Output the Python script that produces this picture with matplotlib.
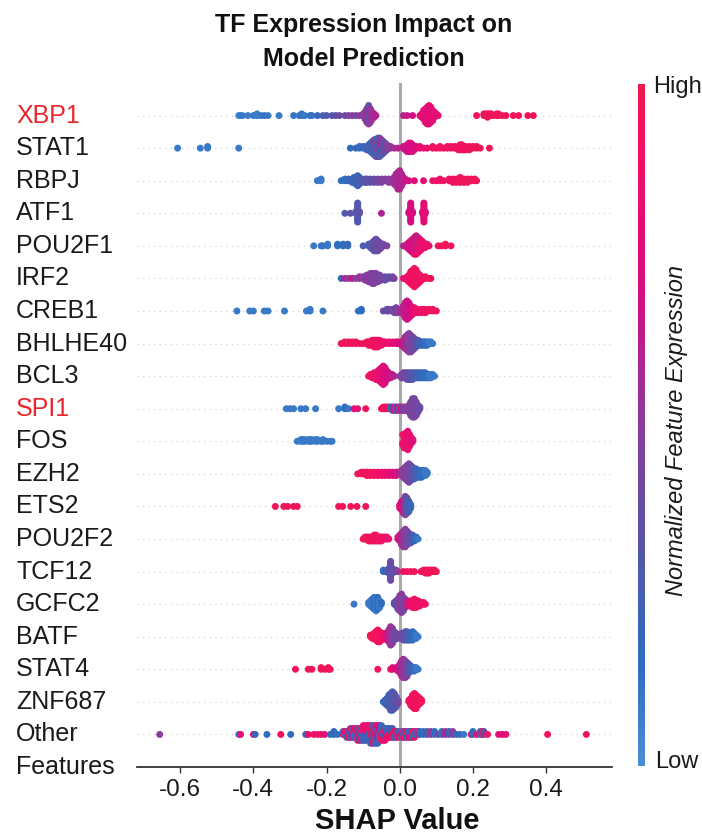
import numpy as np
import matplotlib
matplotlib.use("Agg")
import matplotlib.pyplot as plt
from matplotlib.colors import LinearSegmentedColormap

plt.rcParams['font.family'] = ['Liberation Sans', 'DejaVu Sans']

# ---------------- data (shap value, normalized expression, count) ----------------
features = ["XBP1", "STAT1", "RBPJ", "ATF1", "POU2F1", "IRF2", "CREB1", "BHLHE40",
            "BCL3", "SPI1", "FOS", "EZH2", "ETS2", "POU2F2", "TCF12", "GCFC2",
            "BATF", "STAT4", "ZNF687", "Other\nFeatures"]
highlight = ["XBP1", "SPI1"]
xticks = [-0.6, -0.4, -0.2, 0.0, 0.2, 0.4]

XBP1 = [(-0.44, 0.05, 1), (-0.435, 0.08, 1), (-0.43, 0.1, 1), (-0.415, 0.08, 1), (-0.40, 0.1, 1),
        (-0.39, 0.08, 2), (-0.38, 0.1, 1), (-0.37, 0.12, 1), (-0.36, 0.1, 1), (-0.33, 0.1, 1),
        (-0.29, 0.12, 1), (-0.275, 0.1, 1), (-0.268, 0.12, 2), (-0.26, 0.1, 1), (-0.245, 0.15, 1),
        (-0.24, 0.12, 1), (-0.225, 0.2, 1), (-0.21, 0.25, 1), (-0.2, 0.3, 1), (-0.185, 0.3, 1),
        (-0.175, 0.35, 1), (-0.165, 0.4, 1), (-0.15, 0.4, 1), (-0.14, 0.45, 1), (-0.13, 0.5, 1),
        (-0.12, 0.45, 1), (-0.11, 0.5, 1), (-0.1, 0.45, 2), (-0.095, 0.5, 5), (-0.09, 0.4, 5),
        (-0.09, 0.6, 4), (-0.085, 0.55, 7), (-0.085, 0.35, 5), (-0.08, 0.5, 9), (-0.075, 0.55, 5),
        (-0.07, 0.6, 3), (-0.065, 0.6, 1), (0.01, 0.6, 1), (0.02, 0.65, 1), (0.035, 0.7, 1),
        (0.055, 0.75, 1), (0.06, 0.75, 3), (0.065, 0.8, 6), (0.07, 0.7, 4), (0.07, 0.85, 5),
        (0.075, 0.8, 11), (0.08, 0.85, 7), (0.08, 0.7, 5), (0.085, 0.8, 10), (0.09, 0.8, 7),
        (0.095, 0.8, 4), (0.1, 0.8, 2), (0.105, 0.8, 1), (0.21, 0.95, 1), (0.23, 0.95, 2),
        (0.235, 0.95, 2), (0.24, 0.95, 3), (0.245, 0.95, 2), (0.25, 0.95, 2), (0.255, 0.95, 1),
        (0.265, 0.95, 2), (0.27, 0.95, 2), (0.28, 0.95, 1), (0.29, 0.95, 1), (0.31, 0.95, 1),
        (0.325, 0.95, 1), (0.35, 0.95, 1), (0.365, 0.95, 1)]

STAT1 = [(-0.607, 0.1, 1), (-0.545, 0.1, 1), (-0.525, 0.1, 2), (-0.44, 0.1, 1),
         (-0.135, 0.15, 1), (-0.12, 0.2, 1), (-0.11, 0.15, 2), (-0.1, 0.2, 2), (-0.09, 0.2, 3),
         (-0.085, 0.25, 4), (-0.08, 0.2, 6), (-0.075, 0.3, 8), (-0.07, 0.15, 5), (-0.07, 0.45, 5),
         (-0.065, 0.3, 11), (-0.06, 0.15, 6), (-0.06, 0.5, 6), (-0.055, 0.35, 12), (-0.05, 0.2, 5),
         (-0.05, 0.55, 5), (-0.045, 0.4, 8), (-0.04, 0.35, 6), (-0.035, 0.45, 4), (-0.03, 0.5, 2),
         (-0.025, 0.5, 2), (-0.015, 0.55, 1), (-0.005, 0.6, 1), (0.01, 0.65, 2), (0.015, 0.7, 3),
         (0.02, 0.65, 5), (0.025, 0.7, 6), (0.03, 0.7, 6), (0.035, 0.75, 5), (0.04, 0.7, 3),
         (0.045, 0.75, 2), (0.055, 0.8, 2), (0.065, 0.85, 1), (0.075, 0.85, 1), (0.09, 0.9, 2),
         (0.1, 0.9, 1), (0.11, 0.9, 2), (0.12, 0.9, 1), (0.13, 0.9, 2), (0.14, 0.9, 2),
         (0.15, 0.92, 2), (0.16, 0.92, 3), (0.165, 0.92, 4), (0.17, 0.92, 4), (0.175, 0.92, 3),
         (0.18, 0.92, 3), (0.19, 0.92, 3), (0.2, 0.95, 2), (0.21, 0.95, 2), (0.22, 0.95, 1),
         (0.245, 0.95, 1)]

RBPJ = [(-0.225, 0.1, 1), (-0.215, 0.1, 2), (-0.16, 0.15, 1), (-0.15, 0.15, 2), (-0.14, 0.2, 2),
        (-0.13, 0.2, 3), (-0.125, 0.2, 4), (-0.12, 0.25, 5), (-0.115, 0.2, 7), (-0.11, 0.25, 5),
        (-0.105, 0.3, 3), (-0.095, 0.3, 3), (-0.09, 0.35, 3), (-0.08, 0.35, 3), (-0.07, 0.4, 3),
        (-0.06, 0.4, 3), (-0.05, 0.45, 3), (-0.04, 0.45, 2), (-0.03, 0.5, 3), (-0.02, 0.5, 3),
        (-0.015, 0.55, 5), (-0.01, 0.55, 8), (-0.005, 0.55, 11), (0.0, 0.6, 12), (0.005, 0.6, 8),
        (0.01, 0.6, 4), (0.015, 0.65, 2), (0.025, 0.7, 1), (0.04, 0.75, 1), (0.065, 0.8, 1),
        (0.09, 0.85, 1), (0.1, 0.85, 1), (0.11, 0.9, 2), (0.12, 0.9, 1), (0.135, 0.9, 2),
        (0.145, 0.92, 3), (0.155, 0.92, 3), (0.165, 0.95, 4), (0.175, 0.95, 3), (0.185, 0.95, 3),
        (0.195, 0.95, 2), (0.205, 0.95, 2), (0.21, 0.95, 1)]

ATF1 = [(-0.15, 0.3, 1), (-0.135, 0.35, 1), (-0.12, 0.3, 2), (-0.115, 0.3, 14), (-0.11, 0.35, 2),
        (-0.05, 0.6, 1), (0.025, 0.7, 2), (0.03, 0.7, 14), (0.035, 0.72, 2), (0.062, 0.75, 2),
        (0.066, 0.78, 14), (0.07, 0.78, 2)]

POU2F1 = [(-0.235, 0.1, 1), (-0.215, 0.1, 1), (-0.21, 0.12, 1), (-0.197, 0.1, 2), (-0.17, 0.15, 2),
          (-0.155, 0.15, 2), (-0.142, 0.2, 2), (-0.1, 0.25, 1), (-0.085, 0.3, 2), (-0.08, 0.3, 3),
          (-0.075, 0.35, 5), (-0.07, 0.35, 7), (-0.065, 0.4, 8), (-0.06, 0.35, 7), (-0.055, 0.4, 5),
          (-0.05, 0.45, 3), (-0.045, 0.4, 2), (-0.035, 0.45, 1), (0.01, 0.6, 1), (0.02, 0.65, 3),
          (0.025, 0.7, 5), (0.03, 0.7, 7), (0.035, 0.75, 9), (0.04, 0.9, 6), (0.04, 0.6, 5),
          (0.045, 0.75, 12), (0.05, 0.9, 5), (0.05, 0.6, 5), (0.055, 0.8, 8), (0.06, 0.85, 6),
          (0.065, 0.8, 4), (0.07, 0.85, 3), (0.075, 0.85, 2), (0.08, 0.85, 1), (0.105, 0.95, 1),
          (0.115, 0.95, 1), (0.125, 0.95, 2), (0.14, 0.95, 1)]

IRF2 = [(-0.16, 0.15, 1), (-0.15, 0.6, 1), (-0.14, 0.5, 1), (-0.13, 0.7, 1), (-0.12, 0.4, 1),
        (-0.11, 0.55, 2), (-0.1, 0.5, 2), (-0.095, 0.5, 3), (-0.09, 0.45, 4), (-0.085, 0.5, 5),
        (-0.08, 0.45, 6), (-0.075, 0.5, 7), (-0.07, 0.45, 7), (-0.065, 0.5, 6), (-0.06, 0.45, 5),
        (-0.055, 0.4, 4), (-0.05, 0.45, 3), (-0.04, 0.4, 3), (-0.03, 0.35, 2), (-0.02, 0.4, 2),
        (-0.015, 0.45, 1), (0.01, 0.8, 1), (0.02, 0.85, 3), (0.025, 0.9, 5), (0.03, 0.9, 8),
        (0.035, 0.9, 10), (0.04, 0.92, 12), (0.045, 0.9, 10), (0.05, 0.9, 7), (0.055, 0.92, 5),
        (0.06, 0.92, 3), (0.07, 0.95, 2), (0.08, 0.95, 1), (0.085, 0.95, 1)]

CREB1 = [(-0.445, 0.1, 1), (-0.41, 0.1, 1), (-0.4, 0.1, 1), (-0.37, 0.1, 1), (-0.36, 0.1, 1),
         (-0.315, 0.1, 1), (-0.255, 0.1, 1), (-0.245, 0.1, 2), (-0.21, 0.1, 1), (-0.113, 0.15, 1),
         (-0.105, 0.15, 2), (-0.045, 0.4, 1), (-0.035, 0.3, 2), (-0.03, 0.45, 2), (-0.02, 0.35, 2),
         (-0.015, 0.4, 3), (-0.01, 0.45, 4), (-0.005, 0.5, 3), (0.005, 0.55, 3), (0.01, 0.6, 6),
         (0.015, 0.65, 10), (0.02, 0.65, 12), (0.025, 0.7, 10), (0.03, 0.7, 7), (0.035, 0.75, 5),
         (0.04, 0.8, 4), (0.045, 0.85, 3), (0.05, 0.85, 3), (0.06, 0.9, 3), (0.065, 0.9, 2),
         (0.07, 0.92, 3), (0.08, 0.92, 2), (0.09, 0.95, 2), (0.1, 0.95, 1)]

BHLHE40 = [(-0.16, 0.95, 1), (-0.15, 0.95, 2), (-0.14, 0.95, 2), (-0.13, 0.95, 2), (-0.12, 0.95, 2),
           (-0.11, 0.95, 1), (-0.1, 0.9, 1), (-0.09, 0.95, 2), (-0.085, 0.95, 3), (-0.08, 0.92, 3),
           (-0.075, 0.92, 4), (-0.07, 0.9, 5), (-0.065, 0.92, 5), (-0.06, 0.9, 5), (-0.055, 0.9, 4),
           (-0.05, 0.88, 3), (-0.045, 0.9, 2), (-0.04, 0.85, 2), (-0.03, 0.85, 2), (-0.02, 0.8, 2),
           (-0.01, 0.8, 2), (-0.005, 0.75, 2), (0.005, 0.7, 3), (0.01, 0.65, 5), (0.015, 0.6, 8),
           (0.02, 0.55, 10), (0.025, 0.5, 12), (0.03, 0.45, 11), (0.035, 0.45, 9), (0.04, 0.4, 7),
           (0.045, 0.35, 5), (0.05, 0.3, 4), (0.055, 0.25, 3), (0.06, 0.2, 3), (0.065, 0.2, 3),
           (0.07, 0.15, 3), (0.075, 0.15, 3), (0.08, 0.1, 2), (0.085, 0.1, 2), (0.09, 0.1, 1)]

BCL3 = [(-0.085, 0.9, 1), (-0.08, 0.9, 2), (-0.075, 0.9, 3), (-0.07, 0.88, 4), (-0.065, 0.85, 5),
        (-0.06, 0.85, 6), (-0.055, 0.8, 8), (-0.05, 0.8, 10), (-0.045, 0.75, 12), (-0.04, 0.75, 10),
        (-0.035, 0.7, 6), (-0.03, 0.7, 4), (-0.025, 0.65, 3), (-0.02, 0.65, 2), (-0.015, 0.6, 1),
        (0.0, 0.5, 1), (0.005, 0.45, 3), (0.01, 0.45, 4), (0.015, 0.4, 4), (0.02, 0.4, 5),
        (0.025, 0.35, 5), (0.03, 0.35, 5), (0.035, 0.3, 5), (0.04, 0.3, 4), (0.045, 0.25, 4),
        (0.05, 0.25, 4), (0.055, 0.2, 4), (0.06, 0.2, 4), (0.065, 0.15, 4), (0.07, 0.15, 4),
        (0.075, 0.15, 3), (0.08, 0.12, 3), (0.085, 0.1, 3), (0.09, 0.1, 2), (0.095, 0.1, 1)]

SPI1 = [(-0.31, 0.1, 1), (-0.3, 0.1, 1), (-0.29, 0.1, 1), (-0.27, 0.1, 1), (-0.257, 0.1, 1),
        (-0.23, 0.1, 1), (-0.167, 0.1, 1), (-0.15, 0.15, 2), (-0.14, 0.1, 1), (-0.125, 0.8, 1),
        (-0.115, 0.8, 1), (-0.093, 0.95, 1), (-0.05, 0.95, 1), (-0.045, 0.9, 2), (-0.04, 0.95, 2),
        (-0.035, 0.9, 2), (-0.03, 0.95, 2), (-0.025, 0.2, 2), (-0.02, 0.3, 3), (-0.015, 0.8, 3),
        (-0.01, 0.2, 3), (-0.005, 0.7, 3), (0.0, 0.3, 3), (0.005, 0.75, 3), (0.01, 0.4, 3),
        (0.015, 0.5, 3), (0.02, 0.45, 3), (0.025, 0.5, 5), (0.03, 0.45, 9), (0.035, 0.45, 12),
        (0.04, 0.4, 12), (0.045, 0.45, 9), (0.05, 0.4, 5), (0.055, 0.4, 2)]

FOS = [(-0.28, 0.1, 1), (-0.27, 0.1, 2), (-0.265, 0.1, 2), (-0.26, 0.1, 2), (-0.25, 0.1, 2),
       (-0.245, 0.1, 2), (-0.24, 0.1, 2), (-0.23, 0.1, 2), (-0.225, 0.1, 2), (-0.215, 0.1, 1),
       (-0.21, 0.1, 2), (-0.2, 0.1, 1), (-0.19, 0.1, 1), (-0.185, 0.1, 1), (0.008, 0.85, 3),
       (0.012, 0.9, 6), (0.017, 0.85, 10), (0.022, 0.8, 12), (0.027, 0.85, 8), (0.032, 0.8, 4),
       (0.036, 0.75, 2)]

EZH2 = [(-0.115, 0.95, 1), (-0.105, 0.95, 2), (-0.1, 0.95, 2), (-0.09, 0.95, 3), (-0.08, 0.92, 3),
        (-0.07, 0.9, 3), (-0.06, 0.88, 3), (-0.05, 0.85, 3), (-0.04, 0.85, 3), (-0.03, 0.8, 3),
        (-0.02, 0.75, 3), (-0.01, 0.7, 3), (-0.005, 0.65, 2), (0.005, 0.55, 4), (0.01, 0.5, 6),
        (0.015, 0.5, 8), (0.02, 0.45, 10), (0.025, 0.45, 12), (0.03, 0.4, 10), (0.035, 0.35, 8),
        (0.04, 0.3, 7), (0.045, 0.25, 6), (0.05, 0.2, 5), (0.055, 0.2, 5), (0.06, 0.15, 5),
        (0.065, 0.15, 4), (0.07, 0.1, 4), (0.075, 0.1, 2)]

ETS2 = [(-0.34, 0.95, 1), (-0.317, 0.95, 1), (-0.306, 0.95, 1), (-0.29, 0.95, 1), (-0.28, 0.95, 1),
        (-0.167, 0.95, 1), (-0.156, 0.95, 1), (-0.134, 0.95, 1), (-0.117, 0.95, 1), (-0.093, 0.95, 1),
        (0.0, 0.85, 3), (0.005, 0.75, 6), (0.01, 0.65, 9), (0.015, 0.5, 12), (0.02, 0.35, 10),
        (0.025, 0.25, 7), (0.03, 0.2, 3)]

POU2F2 = [(-0.1, 0.95, 1), (-0.095, 0.95, 2), (-0.09, 0.95, 2), (-0.085, 0.95, 3), (-0.08, 0.95, 3),
          (-0.075, 0.92, 3), (-0.07, 0.95, 4), (-0.065, 0.92, 4), (-0.06, 0.92, 3), (-0.055, 0.9, 3),
          (-0.05, 0.9, 3), (-0.045, 0.9, 2), (-0.04, 0.88, 2), (-0.035, 0.85, 2), (-0.03, 0.85, 1),
          (-0.005, 0.75, 2), (0.0, 0.7, 4), (0.005, 0.6, 7), (0.01, 0.55, 9), (0.015, 0.5, 10),
          (0.02, 0.45, 8), (0.025, 0.4, 6), (0.03, 0.35, 5), (0.035, 0.3, 4), (0.04, 0.2, 3),
          (0.045, 0.15, 2), (0.05, 0.1, 1)]

TCF12 = [(-0.045, 0.15, 2), (-0.04, 0.2, 1), (-0.035, 0.25, 2), (-0.03, 0.3, 4), (-0.025, 0.4, 14),
         (-0.02, 0.35, 4), (-0.015, 0.3, 2), (-0.01, 0.45, 2), (-0.005, 0.5, 1), (0.01, 0.9, 1),
         (0.02, 0.92, 1), (0.03, 0.95, 1), (0.04, 0.95, 1), (0.058, 0.95, 1), (0.065, 0.95, 2),
         (0.07, 0.95, 3), (0.075, 0.95, 3), (0.08, 0.95, 3), (0.085, 0.95, 2), (0.09, 0.95, 2),
         (0.095, 0.95, 2), (0.1, 0.95, 1)]

GCFC2 = [(-0.125, 0.1, 1), (-0.085, 0.1, 2), (-0.08, 0.1, 4), (-0.075, 0.1, 6), (-0.07, 0.15, 8),
         (-0.065, 0.1, 9), (-0.06, 0.15, 8), (-0.055, 0.1, 5), (-0.05, 0.15, 2), (-0.015, 0.3, 2),
         (-0.01, 0.35, 4), (-0.005, 0.4, 7), (0.0, 0.45, 10), (0.005, 0.5, 12), (0.01, 0.45, 9),
         (0.015, 0.5, 6), (0.02, 0.55, 4), (0.025, 0.8, 3), (0.03, 0.85, 4), (0.035, 0.9, 5),
         (0.04, 0.9, 6), (0.045, 0.9, 5), (0.05, 0.9, 4), (0.055, 0.85, 3), (0.06, 0.9, 2),
         (0.065, 0.9, 2), (0.07, 0.9, 1)]

BATF = [(-0.08, 0.95, 2), (-0.075, 0.95, 3), (-0.07, 0.95, 4), (-0.065, 0.95, 6), (-0.06, 0.92, 8),
        (-0.055, 0.92, 7), (-0.05, 0.9, 5), (-0.045, 0.9, 4), (-0.04, 0.85, 4), (-0.035, 0.75, 5),
        (-0.03, 0.6, 8), (-0.025, 0.55, 12), (-0.02, 0.5, 10), (-0.015, 0.45, 6), (-0.01, 0.4, 4),
        (-0.005, 0.4, 3), (0.005, 0.45, 4), (0.01, 0.4, 5), (0.015, 0.35, 6), (0.02, 0.3, 6),
        (0.025, 0.25, 5), (0.03, 0.2, 5), (0.035, 0.15, 6), (0.04, 0.15, 4), (0.045, 0.1, 3),
        (0.05, 0.1, 1)]

STAT4 = [(-0.285, 0.95, 1), (-0.25, 0.95, 1), (-0.24, 0.95, 1), (-0.215, 0.95, 2), (-0.205, 0.95, 1),
         (-0.195, 0.95, 2), (-0.19, 0.95, 1), (-0.06, 0.95, 1), (-0.025, 0.95, 1), (-0.02, 0.75, 2),
         (-0.01, 0.7, 2), (-0.005, 0.7, 3), (0.0, 0.65, 6), (0.005, 0.6, 10), (0.01, 0.55, 12),
         (0.015, 0.5, 11), (0.02, 0.45, 9), (0.025, 0.35, 6), (0.03, 0.25, 4), (0.035, 0.2, 3),
         (0.04, 0.15, 3), (0.045, 0.1, 2), (0.05, 0.1, 1)]

ZNF687 = [(-0.045, 0.15, 1), (-0.04, 0.2, 3), (-0.035, 0.25, 5), (-0.03, 0.2, 8), (-0.025, 0.3, 11),
          (-0.02, 0.25, 12), (-0.015, 0.35, 10), (-0.01, 0.3, 7), (-0.005, 0.4, 3), (0.025, 0.9, 2),
          (0.03, 0.92, 5), (0.035, 0.92, 8), (0.04, 0.95, 10), (0.045, 0.92, 9), (0.05, 0.92, 6),
          (0.055, 0.95, 4), (0.06, 0.95, 2)]

OTHER = [(-0.656, 0.5, 1), (-0.44, 0.1, 1), (-0.435, 0.8, 1), (-0.4, 0.85, 1), (-0.395, 0.2, 1),
         (-0.363, 0.15, 1), (-0.325, 0.9, 1), (-0.298, 0.15, 1), (-0.257, 0.2, 1), (-0.25, 0.85, 1),
         (-0.235, 0.9, 1), (-0.225, 0.85, 1), (-0.215, 0.9, 1), (-0.205, 0.75, 1), (-0.19, 0.15, 1),
         (-0.18, 0.2, 2), (-0.17, 0.15, 1), (-0.155, 0.9, 1), (-0.155, 0.2, 1), (-0.15, 0.2, 1),
         (-0.15, 0.85, 1), (-0.145, 0.85, 2), (-0.145, 0.3, 1), (-0.14, 0.3, 2), (-0.14, 0.9, 1),
         (-0.135, 0.9, 2), (-0.135, 0.2, 2), (-0.13, 0.2, 2), (-0.13, 0.8, 2), (-0.125, 0.8, 2),
         (-0.125, 0.15, 2), (-0.12, 0.15, 2), (-0.12, 0.9, 2), (-0.115, 0.9, 3), (-0.115, 0.3, 2),
         (-0.11, 0.3, 3), (-0.11, 0.85, 2), (-0.105, 0.85, 3), (-0.105, 0.2, 2), (-0.1, 0.2, 3),
         (-0.1, 0.9, 3), (-0.095, 0.9, 3), (-0.095, 0.25, 3), (-0.09, 0.25, 3), (-0.09, 0.8, 3),
         (-0.085, 0.8, 3), (-0.085, 0.15, 3), (-0.08, 0.15, 4), (-0.08, 0.9, 3), (-0.075, 0.9, 4),
         (-0.075, 0.3, 3), (-0.07, 0.3, 4), (-0.07, 0.85, 3), (-0.065, 0.85, 4), (-0.065, 0.2, 3),
         (-0.06, 0.2, 4), (-0.06, 0.7, 3), (-0.055, 0.7, 3), (-0.055, 0.15, 3), (-0.05, 0.15, 3),
         (-0.05, 0.9, 3), (-0.045, 0.9, 3), (-0.045, 0.3, 2), (-0.04, 0.3, 3), (-0.04, 0.8, 2),
         (-0.035, 0.8, 2), (-0.035, 0.2, 2), (-0.03, 0.2, 2), (-0.03, 0.9, 2), (-0.025, 0.9, 2),
         (-0.025, 0.25, 2), (-0.02, 0.25, 2), (-0.02, 0.85, 2), (-0.015, 0.85, 2), (-0.015, 0.2, 1),
         (-0.01, 0.2, 2), (-0.01, 0.9, 1), (-0.005, 0.9, 2), (-0.005, 0.3, 1), (0.005, 0.2, 2),
         (0.005, 0.85, 1), (0.01, 0.85, 2), (0.01, 0.3, 1), (0.015, 0.3, 2), (0.015, 0.9, 1),
         (0.02, 0.9, 2), (0.02, 0.15, 1), (0.025, 0.15, 2), (0.025, 0.8, 1), (0.03, 0.8, 2),
         (0.03, 0.2, 1), (0.035, 0.2, 2), (0.035, 0.9, 1), (0.04, 0.9, 2), (0.04, 0.25, 1),
         (0.045, 0.25, 2), (0.05, 0.85, 2), (0.055, 0.2, 2), (0.065, 0.15, 2), (0.075, 0.3, 2),
         (0.085, 0.5, 2), (0.095, 0.15, 2), (0.105, 0.4, 1), (0.115, 0.15, 2), (0.125, 0.6, 2),
         (0.135, 0.2, 2), (0.145, 0.5, 2), (0.155, 0.15, 1), (0.165, 0.2, 1), (0.175, 0.1, 1),
         (0.195, 0.9, 1), (0.2, 0.15, 2), (0.21, 0.85, 1), (0.22, 0.2, 2), (0.225, 0.9, 2),
         (0.23, 0.4, 2), (0.24, 0.9, 1), (0.27, 0.8, 1), (0.28, 0.75, 1), (0.29, 0.8, 1),
         (0.404, 0.95, 1), (0.51, 0.95, 1)]

rows = [XBP1, STAT1, RBPJ, ATF1, POU2F1, IRF2, CREB1, BHLHE40, BCL3, SPI1, FOS, EZH2, ETS2,
        POU2F2, TCF12, GCFC2, BATF, STAT4, ZNF687, OTHER]

# ---------------- styling ----------------
cmap = LinearSegmentedColormap.from_list(
    "shapish", [(0.0, '#4b8fd6'), (0.15, '#2f6dbf'), (0.32, '#5656a9'), (0.5, '#8a3c9c'),
                (0.7, '#d80c82'), (0.88, '#f00f68'), (1.0, '#f0184e')])


def swarm_offsets(x, row_height=0.4, binw=0.005):
    q = np.round(np.asarray(x) / binw).astype(int)
    n = len(x)
    tie = (np.arange(n) * 0.6180339887) % 1.0
    inds = np.lexsort((tie, q))
    ys = np.zeros(n)
    layer = 0
    last = None
    for ind in inds:
        if q[ind] != last:
            layer = 0
        ys[ind] = np.ceil(layer / 2) * ((layer % 2) * 2 - 1)
        layer += 1
        last = q[ind]
    ys *= 0.9 * (row_height / np.max(ys + 1))
    return ys


W, H = 702, 836
fig = plt.figure(figsize=(W / 100, H / 100), dpi=100)
ax = fig.add_axes([137 / W, 1 - 767 / H, (612 - 137) / W, (767 - 83) / H])

n = len(features)
ax.axvline(0, color='#aaaaaa', lw=2.2, zorder=-1)
for i, (name, data) in enumerate(zip(features, rows)):
    pos = n - 1 - i
    ax.axhline(pos, color='#cccccc', lw=0.8, dashes=(1, 4), zorder=-2)
    counts = [d[2] for d in data]
    xs = np.repeat([d[0] for d in data], counts)
    cs = np.repeat([d[1] for d in data], counts)
    ys = swarm_offsets(xs)
    ax.scatter(xs, pos + ys, c=cs, cmap=cmap, vmin=0, vmax=1, s=25, linewidths=0, zorder=3)
    color = '#e8262b' if name in highlight else '#1a1a1a'
    for k, line in enumerate(name.split("\n")):
        ax.text(-0.2547, pos - k * 0.985, line, transform=ax.get_yaxis_transform(),
                ha='left', va='center', fontsize=18, color=color, clip_on=False)

ax.set_ylim(-1, n)
ax.set_xlim(-0.718, 0.58)
ax.set_yticks([])
ax.set_xticks(xticks)
ax.set_xticklabels([f"{t:.1f}" for t in xticks])
for s in ['left', 'right', 'top']:
    ax.spines[s].set_visible(False)
ax.spines['bottom'].set_linewidth(1.3)
ax.spines['bottom'].set_color('#333333')
ax.tick_params(axis='x', labelsize=17.5, length=4, width=1, color='#333333', labelcolor='#1a1a1a', pad=5)

# colorbar
cax = fig.add_axes([638 / W, 1 - 766 / H, 7 / W, (766 - 84) / H])
cax.imshow(np.linspace(0, 1, 256)[:, None], aspect='auto', cmap=cmap, origin='lower',
           extent=[0, 1, 0, 1])
cax.axis('off')
fig.text(653 / W, 1 - 87 / H, "High", ha='left', va='center', fontsize=17, color='#1a1a1a')
fig.text(655 / W, 1 - 762 / H, "Low", ha='left', va='center', fontsize=17, color='#1a1a1a')
fig.text(677 / W, 1 - 430 / H, "Normalized Feature Expression", rotation=90, style='italic',
         ha='center', va='center', fontsize=17, color='#1a1a1a')

fig.text(364 / W, 1 - 42 / H, "TF Expression Impact on\nModel Prediction", ha='center',
         va='center', fontsize=18, fontweight='bold', linespacing=1.5, color='#111111')
fig.text(397 / W, 1 - 821 / H, "SHAP Value", ha='center', va='center', fontsize=21,
         fontweight='bold', color='#111111')

fig.savefig("out.png", dpi=100)
